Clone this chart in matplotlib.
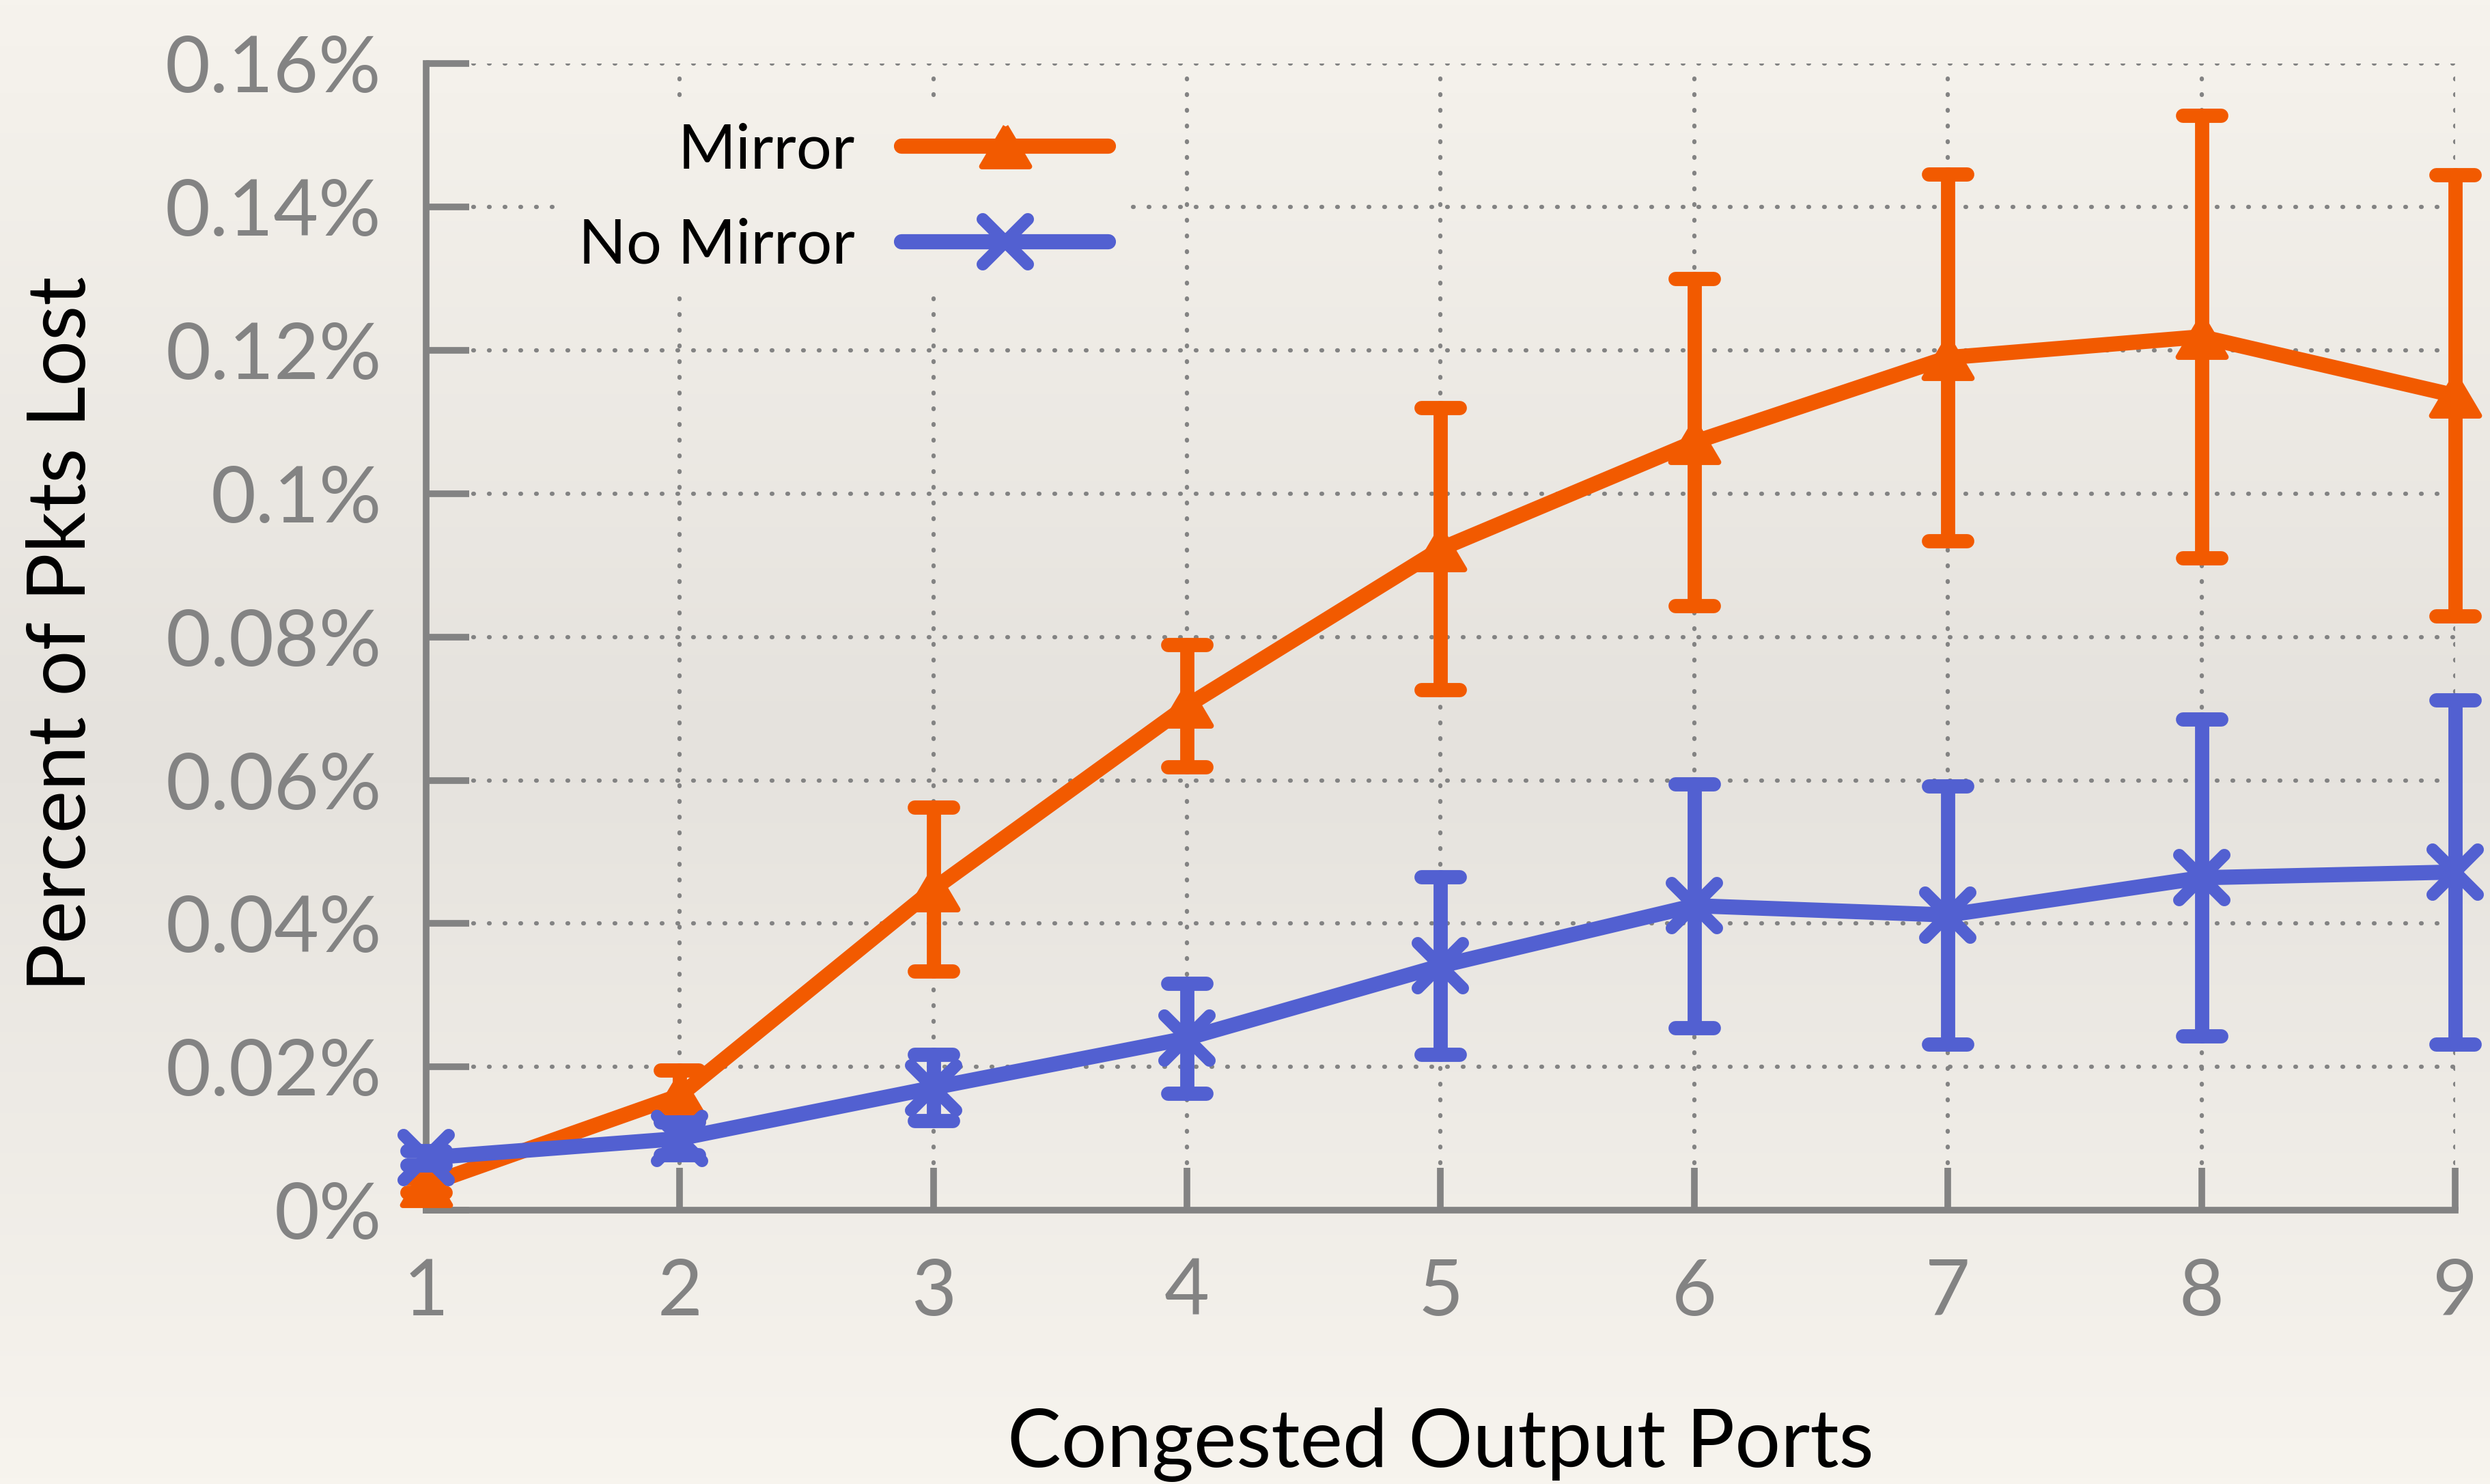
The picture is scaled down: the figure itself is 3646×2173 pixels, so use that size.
import numpy as np
import matplotlib
matplotlib.use("Agg")
import matplotlib.pyplot as plt
from matplotlib.markers import MarkerStyle
from matplotlib.colors import LinearSegmentedColormap

# values (percent of packets lost)
ports = [1, 2, 3, 4, 5, 6, 7, 8, 9]
mirror_mean = [0.0035, 0.0160, 0.0448, 0.0704, 0.0923, 0.1072, 0.1190, 0.1219, 0.1137]
mirror_err = [0.0010, 0.0035, 0.0114, 0.0085, 0.0197, 0.0228, 0.0256, 0.0309, 0.0308]
no_mirror_mean = [0.0073, 0.0100, 0.0171, 0.0240, 0.0341, 0.0425, 0.0412, 0.0464, 0.0472]
no_mirror_err = [0.0010, 0.0023, 0.0046, 0.0077, 0.0124, 0.0170, 0.0180, 0.0221, 0.0240]

y_ticks = [0, 0.02, 0.04, 0.06, 0.08, 0.10, 0.12, 0.14, 0.16]
y_tick_labels = ["0%", "0.02%", "0.04%", "0.06%", "0.08%", "0.1%", "0.12%", "0.14%", "0.16%"]
x_tick_labels = ["1", "2", "3", "4", "5", "6", "7", "8", "9"]

ORANGE = "#F25A00"
BLUE = "#5260D1"
GRAY = "#838383"

plt.rcParams["font.family"] = ["Lato", "DejaVu Sans"]

fig = plt.figure(figsize=(36.46, 21.73), dpi=100)

# paper-ish background, darker band through the middle
paper = LinearSegmentedColormap.from_list(
    "paper", [(0.0, "#F6F3ED"), (0.5, "#E5E2DD"), (1.0, "#F7F4EE")]
)
bg = fig.add_axes([0, 0, 1, 1], zorder=-10)
bg.imshow(np.linspace(0, 1, 256).reshape(-1, 1), cmap=paper, vmin=0, vmax=1,
          aspect="auto", extent=(0, 1, 0, 1))
bg.axis("off")

ax = fig.add_axes([0.1711, 0.1845, 0.8149, 0.7725])
ax.set_facecolor("none")

tri = MarkerStyle(np.array([[0, 0.843], [-1, -0.843], [1, -0.843], [0, 0.843]]),
                  joinstyle="round")
cross = MarkerStyle("x", capstyle="round")


def series(mean, err, color, marker, ms, mew, label, z):
    _, caps, bars = ax.errorbar(ports, mean, yerr=err, fmt="none", ecolor=color,
                                elinewidth=15, capsize=20.5, capthick=15,
                                clip_on=False, zorder=z)
    for cap in caps:
        cap.set_marker(MarkerStyle("_", capstyle="round"))
        cap.set_clip_on(False)
    for b in bars:
        b.set_capstyle("round")
        b.set_clip_on(False)
    ax.plot(ports, mean, color=color, lw=16, marker=marker, ms=ms, mew=mew,
            mfc=color, mec=color, label=label, clip_on=False, zorder=z + 1,
            solid_joinstyle="round", solid_capstyle="round")


series(mirror_mean, mirror_err, ORANGE, tri, 50, 6, "Mirror", 3)
series(no_mirror_mean, no_mirror_err, BLUE, cross, 47, 13, "No Mirror", 5)

ax.set_xticks(ports)
ax.set_xticklabels(x_tick_labels)
ax.set_yticks(y_ticks)
ax.set_yticklabels(y_tick_labels)

for side in ["top", "right"]:
    ax.spines[side].set_visible(False)
for side in ["left", "bottom"]:
    ax.spines[side].set_color(GRAY)
    ax.spines[side].set_linewidth(7)

ax.tick_params(direction="in", length=45, width=7, color=GRAY,
               labelcolor=GRAY, labelsize=82)
ax.tick_params(axis="y", pad=47)
ax.tick_params(axis="x", pad=50)

ax.set_axisbelow(True)
ax.grid(True, color=GRAY, lw=4.5, linestyle=(0, (0.15, 3.53)),
        dash_capstyle="round")

leg = ax.legend(loc="center right", bbox_to_anchor=(0.3455, 0.8826),
                borderaxespad=0, borderpad=0.3, markerfirst=False,
                fontsize=66, handlelength=3.3, handletextpad=0.75,
                labelspacing=0.62, numpoints=1, frameon=False)
leg.set_zorder(10)

fig.text(0.5786, 0.0115, "Congested Output Ports", ha="center",
         va="baseline", fontsize=85, color="black")
fig.text(0.0343, 0.573, "Percent of Pkts Lost", rotation=90,
         rotation_mode="anchor", ha="center", va="baseline", fontsize=85,
         color="black")

# the legend box hides the grid behind it: paint the paper back over it
fig.canvas.draw()
box_ax = leg.get_window_extent().transformed(ax.transAxes.inverted())
box_fig = leg.get_window_extent().transformed(fig.transFigure.inverted())
ax.imshow(np.linspace(1 - box_fig.y1, 1 - box_fig.y0, 64).reshape(-1, 1),
          cmap=paper, vmin=0, vmax=1, aspect="auto", interpolation="bilinear",
          extent=(box_ax.x0, box_ax.x1, box_ax.y0, box_ax.y1),
          transform=ax.transAxes, zorder=1)

ax.set_xlim(1, 9)
ax.set_ylim(0, 0.16)

fig.savefig("out.png", dpi=100)
